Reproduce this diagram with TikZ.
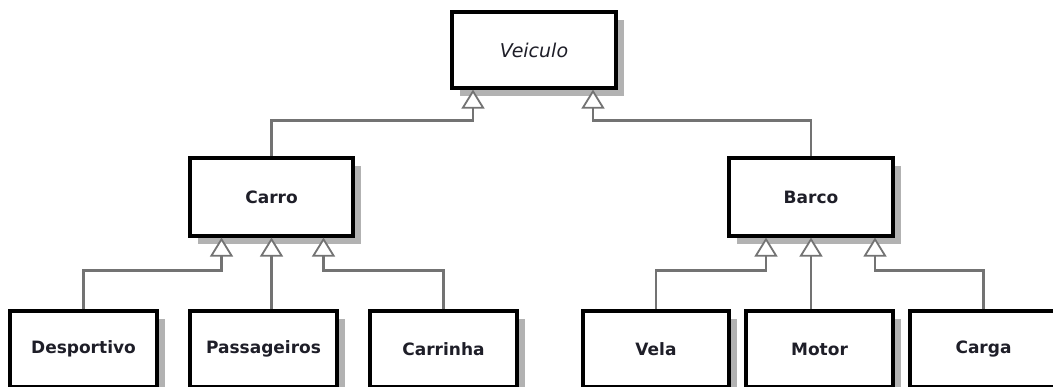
\documentclass[tikz,border=0pt]{standalone}
\usepackage{fontspec}
\setmainfont{DejaVu Sans}
\usetikzlibrary{arrows.meta,shadows}
\definecolor{shad}{RGB}{178,178,178}
\definecolor{conn}{RGB}{115,115,115}
\definecolor{txt}{RGB}{30,30,40}
\tikzset{
  cls/.style={draw=black, line width=3.2pt, fill=white, rectangle, inner sep=0pt,
    minimum height=76pt, text=txt,
    font=\fontsize{17}{20}\selectfont\bfseries,
    general shadow={fill=shad, shadow xshift=8pt, shadow yshift=-8pt}},
  inh/.style={draw=conn, line width=2.4pt,
    -{Triangle[width=23pt,length=19pt,fill=white,line width=1.8pt]}},
}
\begin{document}
\begin{tikzpicture}[x=1pt,y=-1pt]
\useasboundingbox (0,0) rectangle (1053,387);
\node[cls, minimum width=164pt, font=\fontsize{19}{22}\selectfont\itshape] (veic) at (534,50) {Veiculo};
\node[cls, minimum width=163pt, minimum height=78pt] (carro) at (271.5,197) {Carro};
\node[cls, minimum width=164pt, minimum height=78pt] (barco) at (811,197) {Barco};
\node[cls, minimum width=147pt] (desp) at (83.5,349) {Desportivo};
\node[cls, minimum width=147pt] (pass) at (263.5,349) {Passageiros};
\node[cls, minimum width=147pt] (carr) at (443.5,349) {Carrinha};
\node[cls, minimum width=146pt] (vela) at (656,349) {Vela};
\node[cls, minimum width=147pt] (motor) at (819.5,349) {Motor};
\node[cls, minimum width=147pt] (carga) at (983.5,349) {Carga};
% level 1
\draw[inh] (carro.north) -- ++(0,-36) -| ([xshift=-61pt]veic.south);
\draw[inh] (barco.north) -- ++(0,-36) -| ([xshift=59pt]veic.south);
% carro children
\draw[inh] (desp.north) -- ++(0,-39) -| ([xshift=-50pt]carro.south);
\draw[inh] (pass.north -| carro.south) -- (carro.south);
\draw[inh] (carr.north) -- ++(0,-39) -| ([xshift=52pt]carro.south);
% barco children
\draw[inh] (vela.north) -- ++(0,-39) -| ([xshift=-45pt]barco.south);
\draw[inh] (motor.north -| barco.south) -- (barco.south);
\draw[inh] (carga.north) -- ++(0,-39) -| ([xshift=64pt]barco.south);
\end{tikzpicture}
\end{document}
